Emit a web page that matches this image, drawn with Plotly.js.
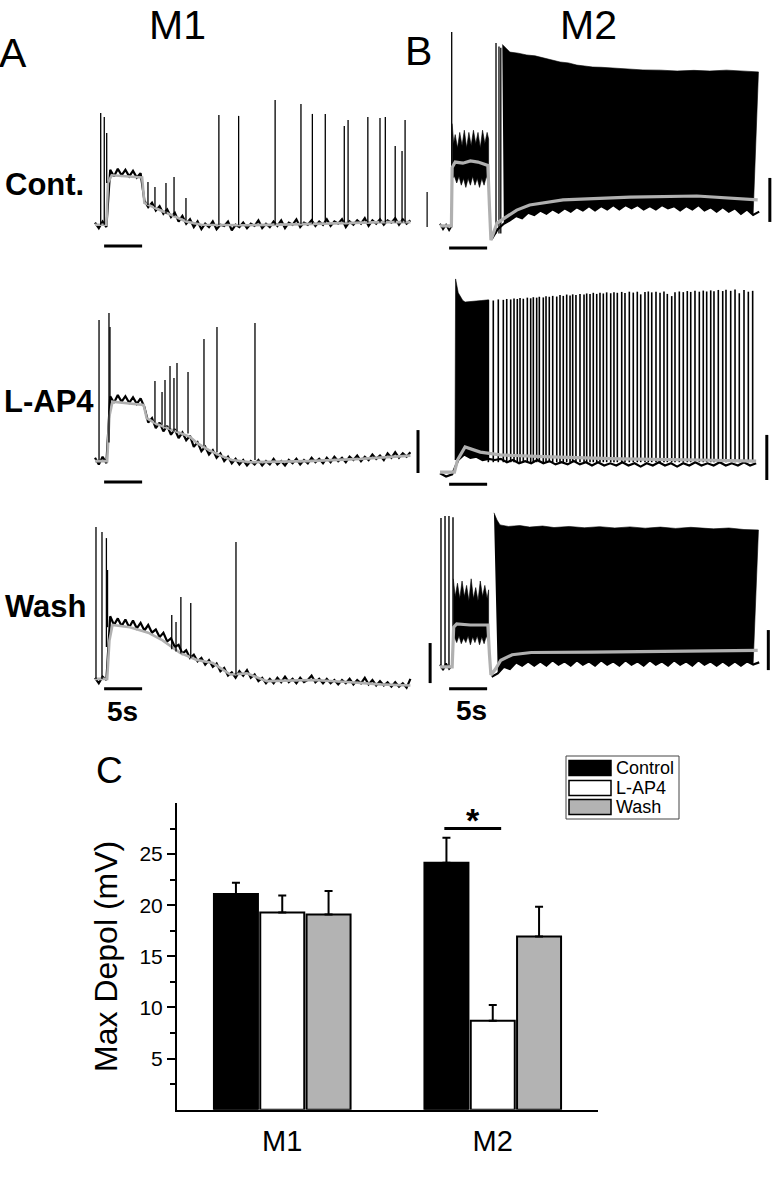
<!DOCTYPE html>
<html>
<head>
<meta charset="utf-8">
<script src="https://cdn.plot.ly/plotly-3.0.1.min.js"></script>
<style>
  html, body { margin: 0; padding: 0; background: #fff; }
  #fig { width: 772px; height: 1200px; }
</style>
</head>
<body>
<div id="fig"></div>
<script>
// ---------------------------------------------------------------
// Values.
// Traces: time in s, membrane potential in mV relative to rest.
// ---------------------------------------------------------------

// black traces of the M1 cells are sampled every 0.5 s from t = 0
const DT_M1 = 0.5;

// A, control
const m1ContBlack = [2, -0.5, 2.5, 0, 26, 23, 26.5, 23.5, 26, 23, 25.5, 22.5, 24.5, 12, 9, 11, 7.5, 9.5, 6, 8, 4.5, 6.5, 2.5, 5, 1.5, 3.5, 0, 2.5,
  -1, 1.5, 0, 2.5, -1, 1, 0.5, 2.5, -1.5, 1, 0, 2, -0.5, 1.5, 0.5, 3, -0.5, 1.5, 0, 2.5, 0.5, 3, -0.5, 2, 1, 3.5, 0, 2,
  1, 3, 0.5, 2.5, 1, 3.5, 0.5, 2.5, 1.5, 3.5, 0, 2.5, 1, 3, 1.5, 4, 0.5, 3, 1.5, 3.5, 1, 3, 2, 4, 1, 3.5, 1.5, 3];
const m1ContGrayT = [0, 1.5, 1.7, 2.2, 6.2, 6.5, 8, 10, 12, 14, 20, 26, 32, 38, 41.5];
const m1ContGrayV = [1, 1, 20, 23.5, 22.5, 11, 8.5, 5.5, 2.5, 1, 0.8, 1.2, 1.8, 2.2, 2.2];
const m1ContSpikeT = [0.75, 1.22, 1.54, 6.97, 7.89, 9.34, 10.4, 11.97, 16.3, 18.9, 23.7, 27.1, 28.6, 30.3, 32.8, 33.3, 35.9, 37.5, 38.2, 39.5, 40.4, 40.8];
const m1ContSpikeBase = [1, 1, 20, 10, 9, 6, 5, 3, 1, 1, 1, 1.5, 1.5, 2, 2, 2, 2, 2, 2, 2, 2, 2];
const m1ContSpikePeak = [51.8, 50, 42.7, 20.5, 18.2, 20, 22.7, 13.2, 50.9, 50.5, 57.7, 55.9, 51.4, 51.4, 45.9, 48.6, 50, 49.5, 50, 36.8, 34.5, 48.6];

// A, L-AP4
const m1LapBlack = [1, -2, 1.5, -1.5, 29, 26, 29.5, 26.5, 29, 26, 28.5, 25.5, 28, 24, 17, 19, 14.5, 17, 13, 15.5, 11.5, 14, 10, 12.5, 9, 11, 6, 8,
  4, 6, 2.5, 4.5, 1, 3, -0.5, 1.5, -1.5, 0.5, -2, 0, -2.5, -0.5, -2, 0, -2.5, -0.5, -2, 0.5, -2, -0.5, -2.5, 0, -1.5, 0.5, -2, 0,
  -1.5, 1, -1, 0.5, -1.5, 1, -1, 1.5, -0.5, 1, -1, 1.5, 0, 2, -0.5, 1.5, 0, 2.5, 0.5, 2, 0, 3, 1, 3.5, 1, 3, 1.5, 3.5];
const m1LapGrayT = [0, 1.6, 1.9, 2.3, 6.4, 6.8, 8, 9.5, 11, 12.5, 13.5, 15, 16.5, 18, 20.5, 28, 35, 41.5];
const m1LapGrayV = [-0.5, -0.5, 20, 26.5, 25, 19, 16.5, 14.5, 12.5, 10.5, 7.5, 4.5, 2, 0, -1, -0.5, 0.5, 2];
const m1LapSpikeT = [0.53, 1.84, 1.97, 7.89, 8.82, 9.21, 9.87, 10.39, 10.79, 12.24, 14.34, 16.05, 21.05];
const m1LapSpikeBase = [0, 8, 26, 17, 16, 15, 14, 13, 13, 12, 6.5, 3.5, 0];
const m1LapSpikePeak = [63.6, 66.8, 60.5, 35.9, 30.9, 36.4, 42.7, 37.3, 44.1, 40, 55, 60.5, 62.3];

// A, wash
const m1WashBlack = [1, -1.5, 1.5, 0, 29, 25, 28, 24.5, 27.5, 24, 27, 23.5, 26, 22.5, 25, 21.5, 23, 19.5, 21.5, 17.5, 19, 15, 16, 12, 13.5, 10, 11.5, 8.5,
  10, 7, 9, 6, 7.5, 4, 5.5, 2, 3.5, 1, 4, 2, 4.5, 1, 2.5, -0.5, 1, -1.5, 0.5, -1.5, 1, -1, 1.5, -1, 0.5, -1.5, 1, -1,
  0, 2, -1, 0.5, -1.5, 0.5, -1.5, 0, -2, 0, -1.5, 0.5, -2, 0, -1.5, 1, -2, 0, -2.5, -0.5, -2.5, -1, -3, -1, -3, -1.5, -3.5, 0.5];
const m1WashGrayT = [0, 1.6, 1.9, 2.3, 4.6, 7, 8.9, 11.2, 13.4, 15.5, 17.8, 20, 22.6, 28.7, 33.2, 37.5, 41.5];
const m1WashGrayV = [0.5, 0.5, 18, 25, 24, 21.5, 18, 12.3, 9.1, 7.7, 2.5, 3, -0.5, 0, -0.9, -2, -2.5];
const m1WashSpikeT = [0.13, 0.92, 1.5, 1.65, 10.1, 10.66, 11.3, 12.6, 18.55];
const m1WashSpikeBase = [0.5, 0.5, 15, 24, 14, 13, 12, 10, 2.5];
const m1WashSpikePeak = [69.5, 67.3, 64.5, 50, 29.5, 26.4, 37.7, 35, 62.7];

// lower black edges of the M2 traces are sampled every 0.8 s
const DT_M2 = 0.8;

// B, control
const m2ContPreT = [0, 0.4, 0.8, 1.2, 1.55];
const m2ContPreV = [1.5, -1, 1, -1.5, 0.5];
const m2ContPlatUpT = [1.6, 1.8, 2.0, 2.3, 2.6, 2.9, 3.2, 3.5, 3.8, 4.1, 4.4, 4.7, 5.0, 5.3, 5.6, 5.9, 6.2, 6.4];
const m2ContPlatUpV = [47, 38, 42, 36, 43, 37, 44, 36, 43, 37, 44, 38, 43, 36, 44, 38, 43, 40];
const m2ContPlatLoT = [1.6, 1.9, 2.2, 2.5, 2.8, 3.1, 3.4, 3.7, 4.0, 4.3, 4.6, 4.9, 5.2, 5.5, 5.8, 6.1, 6.4];
const m2ContPlatLoV = [22, 23, 20, 23, 19, 22, 18, 22, 19, 23, 19, 22, 18, 22, 19, 23, 20];
const m2ContTopT = [8.2, 8.6, 9.2, 10.3, 11.4, 12.5, 13.6, 14.7, 15.8, 16.9, 18, 19, 20.1, 21.2, 22.4, 24.5, 26.7, 29, 31.2, 33.4, 35.5, 37.7, 39.9, 41.9];
const m2ContTopV = [83, 81.4, 79.5, 79, 78.2, 77.8, 76.8, 76, 75, 74.6, 73.6, 73.2, 72.7, 72.6, 72.3, 71.7, 71.4, 71.3, 70.9, 71.2, 70.9, 71.3, 71, 70.5];
const m2ContLowT0 = 6.8;
const m2ContLowV = [-5.5, -1, 1.5, 3, 5, 4, 6.5, 5.5, 7.5, 6, 8, 6.5, 8.5, 7, 9, 7.5, 9.5, 7.5, 9.5, 8, 10, 8, 10, 8.5, 10,
  8, 9.5, 8, 10, 8.5, 9.5, 7.5, 9.5, 8, 10, 7.5, 9, 7, 9, 7, 8.5, 6, 8, 5.5, 7];
const m2ContGrayT = [0, 1.5, 1.6, 2, 3, 4, 5, 6.3, 6.5, 6.7, 7.5, 10.1, 11.8, 16.2, 25, 33.8, 41.8];
const m2ContGrayV = [0.5, 0.5, 27, 29.5, 29, 30, 29.5, 28, 10, -6, 1.8, 7.7, 10, 12.3, 13.6, 14.1, 12.3];
const m2ContSpikeT = [1.54, 7.37, 7.76, 8.0];
const m2ContSpikeBase = [0, -3, -3, -3];
const m2ContSpikePeak = [88.6, 83.6, 82, 81.5];

// B, L-AP4
const m2LapTopT = [1.97, 2.05, 2.4, 3.0, 3.3, 4.5, 5.5, 6.4];
const m2LapTopV = [0, 82.3, 76, 72.5, 71.8, 72, 72.5, 72.8];
const m2LapLowT0 = 0;
const m2LapLowV = [-6, -7.5, -6.5, 0, 2.5, 1, 1.5, 0, 0.5, 0, 0.5, -1, 0, -1.5, -0.5, -1.5, 0, -1.5, -0.5, -2, -1, -2, -0.5, -2, -1,
  -2.5, -1, -2.5, -1.5, -2.5, -1, -2.5, -1.5, -3, -1.5, -2.5, -1, -2.5, -1.5, -3, -1.5, -2.5, -1, -2.5, -1.5, -2.5, -1, -2.5, -1.5, -2.5, -1, -2.5, -1.5];
const m2LapGrayT = [0, 1.9, 2.3, 3.3, 5.3, 7.9, 14.5, 23.7, 34.2, 41.6];
const m2LapGrayV = [-5.5, -5.5, 0, 5.9, 3.6, 2.3, 1.4, 0.5, 0, -0.5];
const m2LapSpikeBase = -1;
const m2LapSpikeT = [6.36, 7.01, 7.67, 8.33, 8.78, 9.30, 9.74, 10.17, 10.53, 10.96, 11.49, 11.93, 12.28, 12.72, 13.07, 13.59, 13.95, 14.38,
  14.83, 15.36, 15.79, 16.22, 16.67, 17.11, 17.46, 17.89, 18.42, 18.95, 19.30, 19.74, 20.17, 20.62, 21.05, 21.49, 21.93, 22.46,
  22.89, 23.33, 23.91, 24.34, 24.91, 25.43, 25.96, 26.41, 26.97, 27.41, 27.86, 28.42, 28.95, 29.47, 29.91, 30.49, 30.92, 31.49,
  32.01, 32.54, 32.99, 33.55, 34.12, 34.64, 35.09, 35.62, 36.05, 36.62, 37.20, 37.63, 38.25, 38.82, 39.38, 40.00, 40.57, 41.14];
const m2LapSpikePeak = [72.7, 72.5, 73, 72.8, 73.2, 73, 73.4, 73.2, 73.6, 73.3, 73.8, 73.5, 74, 73.8, 74.2, 73.9, 74.4, 74.2,
  74.6, 74.3, 75, 74.6, 75.2, 74.8, 75.3, 75, 75.5, 75.2, 75.7, 75.4, 76, 75.5, 76, 75.7, 76.2, 75.8,
  76.3, 76, 76.4, 75.9, 76.5, 76.1, 76.5, 75.3, 76.4, 76.6, 76.2, 76.5, 76, 76.6, 75.5, 74.5, 76.2, 76.6,
  76.3, 76.8, 76.4, 76.9, 76.5, 77, 76.6, 77.1, 76.7, 77.3, 76.8, 77.4, 76.9, 77.5, 75.8, 77.3, 76.5, 76.9];

// B, wash
const m2WashPreT = [0, 0.4, 0.8, 1.2, 1.6];
const m2WashPreV = [7, 4.5, 7.5, 5, 6.5];
const m2WashPlatUpT = [1.75, 2.0, 2.3, 2.6, 2.9, 3.2, 3.5, 3.8, 4.1, 4.4, 4.7, 5.0, 5.3, 5.6, 5.9, 6.2, 6.4];
const m2WashPlatUpV = [46, 38, 44, 37, 45, 38, 43, 36, 46, 37, 42, 36, 45, 38, 43, 37, 41];
const m2WashPlatLoT = [1.75, 1.9, 2.2, 2.5, 2.8, 3.1, 3.4, 3.7, 4.0, 4.3, 4.6, 4.9, 5.2, 5.5, 5.8, 6.1, 6.4];
const m2WashPlatLoV = [18, 19.5, 17, 20, 16.5, 19, 17, 20, 16, 19.5, 17, 20, 16, 19.5, 16.5, 20, 17];
const m2WashTopT = [7.1, 7.5, 7.9, 9, 10.5, 11.8, 13.5, 15, 17, 19, 21, 23, 25, 27, 29, 31, 33, 34.2, 36, 38, 40, 41.9];
const m2WashTopV = [76, 72.7, 70.5, 69.8, 70.2, 69.5, 70, 69.3, 69.8, 69.2, 69.7, 69.1, 69.6, 69, 69.5, 68.9, 69.4, 69, 68.7, 69.1, 68.4, 68.2];
const m2WashLowT0 = 6.8;
const m2WashLowV = [1.5, 3, 6, 5, 8, 6.5, 8.5, 6.5, 8.5, 6.5, 9, 7, 8.5, 6.5, 9, 7, 8.5, 6.5, 9, 7, 8.5, 6.5, 9, 7, 8.5,
  6.5, 9, 7, 8.5, 6.5, 9, 7, 8.5, 6.5, 9, 7, 8.5, 6.5, 8.5, 6.5, 8.5, 6.5, 8.5, 7, 8];
const m2WashGrayT = [0, 1.6, 1.8, 2.2, 4, 6.3, 6.5, 6.7, 7.3, 8, 9.5, 12, 20, 30, 41.8];
const m2WashGrayV = [6, 6, 24, 25.5, 25, 25, 12, 2.3, 5, 9, 11.5, 12.5, 12.7, 13, 13.5];
const m2WashSpikeT = [0.13, 0.66, 1.18, 1.71];
const m2WashSpikeBase = [6, 6, 6, 20];
const m2WashSpikePeak = [73.6, 74.5, 74.5, 74];

// 5 s stimulus / time bar under each trace
const stimStart = 1.2;
const stimDur = 5;
const stimBarV = [-8.6, -9.5, -10, -11, -4, -4];

// voltage scale bars: panel, time, from, to
const scalePanel = [0, 2, 1, 3, 5, 5];
const scaleT = [43.7, 42.5, 43.4, 43.0, -1.3, 43.2];
const scaleV0 = [0, -5.9, 2.3, -9.1, -1.4, 4.5];
const scaleV1 = [15.9, 13.6, 22.3, 11.4, 16.8, 22.7];

// C, bar chart
const groups = ['M1', 'M2'];
const conditions = ['Control', 'L-AP4', 'Wash'];
const meanControl = [21.1, 24.15];
const meanLap = [19.3, 8.7];
const meanWash = [19.1, 16.95];
const semControl = [1.1, 2.45];
const semLap = [1.65, 1.55];
const semWash = [2.3, 2.9];
const sigLevel = 27.5;

// ---------------------------------------------------------------
const W = 772, H = 1200;
const PX_PER_S = 7.6, PX_PER_MV = 2.2;
const FONT = 'Liberation Sans, Arial, Helvetica, sans-serif';
const GRAY = '#b0b0b0';
const barColors = ['#000000', '#ffffff', '#b3b3b3'];

const px = p => p / W;
const py = p => 1 - p / H;

// placement of the six trace panels, in pixels
const panels = [
  { orig: 95,  left: 90,  right: 436, top: 20,  bottom: 258, ref: 227 },
  { orig: 440, left: 428, right: 772, top: 20,  bottom: 258, ref: 227 },
  { orig: 95,  left: 90,  right: 436, top: 270, bottom: 495, ref: 460 },
  { orig: 440, left: 428, right: 772, top: 270, bottom: 495, ref: 460 },
  { orig: 95,  left: 90,  right: 436, top: 505, bottom: 700, ref: 680 },
  { orig: 440, left: 428, right: 772, top: 505, bottom: 700, ref: 680 }
];
const sfx = i => (i === 0 ? '' : String(i + 1));

const layout = {
  width: W, height: H,
  margin: { l: 0, r: 0, t: 0, b: 0 },
  paper_bgcolor: '#fff', plot_bgcolor: 'rgba(0,0,0,0)',
  showlegend: false,
  font: { family: FONT, color: '#000' },
  barmode: 'group', bargap: 0.34, bargroupgap: 0.05,
  shapes: [], annotations: []
};

panels.forEach((p, i) => {
  const s = sfx(i);
  layout['xaxis' + s] = {
    domain: [px(p.left), px(p.right)],
    range: [(p.left - p.orig) / PX_PER_S, (p.right - p.orig) / PX_PER_S],
    visible: false, anchor: 'y' + s
  };
  layout['yaxis' + s] = {
    domain: [py(p.bottom), py(p.top)],
    range: [(p.ref - p.bottom) / PX_PER_MV, (p.ref - p.top) / PX_PER_MV],
    visible: false, anchor: 'x' + s
  };
});

const traces = [];

function grid(t0, dt, v) {
  return v.map((_, k) => +(t0 + k * dt).toFixed(3));
}
function line(i, t, v, color, width) {
  traces.push({
    type: 'scatter', mode: 'lines', x: t, y: v,
    xaxis: 'x' + sfx(i), yaxis: 'y' + sfx(i),
    line: { color: color, width: width }, hoverinfo: 'skip'
  });
}
function spikes(i, t, base, peak, width) {
  const x = [], y = [];
  t.forEach((tt, k) => {
    x.push(tt, tt, null);
    y.push(Array.isArray(base) ? base[k] : base, peak[k], null);
  });
  line(i, x, y, '#000', width);
}
function band(i, tTop, vTop, tBot, vBot) {
  const lo = tTop[0] - 1e-6, hi = tTop[tTop.length - 1] + 1e-6;
  const bt = [], bv = [];
  tBot.forEach((t, k) => { if (t >= lo && t <= hi) { bt.push(t); bv.push(vBot[k]); } });
  traces.push({
    type: 'scatter', mode: 'lines', fill: 'toself', fillcolor: '#000',
    x: tTop.concat(bt.reverse()), y: vTop.concat(bv.reverse()),
    xaxis: 'x' + sfx(i), yaxis: 'y' + sfx(i),
    line: { color: '#000', width: 0.6 }, hoverinfo: 'skip'
  });
}

function m1Panel(i, black, grayT, grayV, spT, spB, spP) {
  line(i, grid(0, DT_M1, black), black, '#000', 2.2);
  line(i, grayT, grayV, GRAY, 2.6);
  spikes(i, spT, spB, spP, 1.3);
}

m1Panel(0, m1ContBlack, m1ContGrayT, m1ContGrayV, m1ContSpikeT, m1ContSpikeBase, m1ContSpikePeak);
m1Panel(2, m1LapBlack, m1LapGrayT, m1LapGrayV, m1LapSpikeT, m1LapSpikeBase, m1LapSpikePeak);
m1Panel(4, m1WashBlack, m1WashGrayT, m1WashGrayV, m1WashSpikeT, m1WashSpikeBase, m1WashSpikePeak);

// B, control
(function () {
  const lowT = grid(m2ContLowT0, DT_M2, m2ContLowV);
  line(1, m2ContPreT, m2ContPreV, '#000', 1.8);
  band(1, m2ContPlatUpT, m2ContPlatUpV, m2ContPlatLoT, m2ContPlatLoV);
  band(1, m2ContTopT, m2ContTopV, lowT, m2ContLowV);
  spikes(1, m2ContSpikeT, m2ContSpikeBase, m2ContSpikePeak, 1.3);
  line(1, lowT, m2ContLowV, '#000', 2.2);
  line(1, m2ContGrayT, m2ContGrayV, GRAY, 3.2);
})();

// B, L-AP4
(function () {
  const lowT = grid(m2LapLowT0, DT_M2, m2LapLowV);
  band(3, m2LapTopT, m2LapTopV, lowT, m2LapLowV);
  spikes(3, m2LapSpikeT, m2LapSpikeBase, m2LapSpikePeak, 1.6);
  line(3, lowT, m2LapLowV, '#000', 2.2);
  line(3, m2LapGrayT, m2LapGrayV, GRAY, 3.2);
})();

// B, wash
(function () {
  const lowT = grid(m2WashLowT0, DT_M2, m2WashLowV);
  line(5, m2WashPreT, m2WashPreV, '#000', 1.8);
  spikes(5, m2WashSpikeT, m2WashSpikeBase, m2WashSpikePeak, 1.4);
  band(5, m2WashPlatUpT, m2WashPlatUpV, m2WashPlatLoT, m2WashPlatLoV);
  band(5, m2WashTopT, m2WashTopV, lowT, m2WashLowV);
  line(5, lowT, m2WashLowV, '#000', 2.2);
  line(5, m2WashGrayT, m2WashGrayV, GRAY, 3.2);
})();

// time bars and voltage scale bars
stimBarV.forEach((v, i) => {
  layout.shapes.push({
    type: 'line', xref: 'x' + sfx(i), yref: 'y' + sfx(i),
    x0: stimStart, x1: stimStart + stimDur, y0: v, y1: v,
    line: { color: '#000', width: 3 }
  });
});
scalePanel.forEach((pi, k) => {
  layout.shapes.push({
    type: 'line', xref: 'x' + sfx(pi), yref: 'y' + sfx(pi),
    x0: scaleT[k], x1: scaleT[k], y0: scaleV0[k], y1: scaleV1[k],
    line: { color: '#000', width: pi === 0 ? 1.2 : 3 }
  });
});

// ---------------- bar chart (C) ----------------
const means = [meanControl, meanLap, meanWash];
const sems = [semControl, semLap, semWash];
conditions.forEach((c, k) => {
  traces.push({
    type: 'bar', name: c, x: groups, y: means[k],
    xaxis: 'x7', yaxis: 'y7',
    marker: { color: barColors[k], line: { color: '#000', width: 2 } },
    error_y: {
      type: 'data', symmetric: false, array: sems[k],
      arrayminus: sems[k].map(() => 0),
      color: '#000', thickness: 2, width: 4
    },
    hoverinfo: 'skip'
  });
});

layout.xaxis7 = {
  domain: [px(177), px(598)], anchor: 'y7',
  type: 'category', range: [-0.5, 1.5],
  showline: true, linecolor: '#000', linewidth: 2,
  ticks: 'outside', ticklen: 4, tickcolor: 'rgba(0,0,0,0)',
  tickfont: { size: 29 }, showgrid: false, zeroline: false
};
layout.yaxis7 = {
  domain: [py(1109.7), py(803)], anchor: 'x7',
  range: [0, 30],
  showline: true, linecolor: '#000', linewidth: 2,
  ticks: 'outside', ticklen: 8, tickwidth: 2, tickcolor: '#000',
  tickvals: [5, 10, 15, 20, 25], tickfont: { size: 21 },
  minor: { tickvals: [2.5, 7.5, 12.5, 17.5, 22.5, 27.5], ticks: 'outside', ticklen: 5, tickwidth: 2, tickcolor: '#000' },
  title: { text: 'Max Depol (mV)', font: { size: 32 }, standoff: 12 },
  showgrid: false, zeroline: false
};

// significance bar between control and L-AP4 of M2
const slot = (1 - layout.bargap) / conditions.length;
const ctrlX = 1 - slot, lapX = 1;
layout.shapes.push({
  type: 'line', xref: 'x7', yref: 'y7',
  x0: ctrlX - 0.01, x1: lapX + 0.04, y0: sigLevel, y1: sigLevel,
  line: { color: '#000', width: 3 }
});
layout.annotations.push({
  text: '<b>*</b>', xref: 'x7', yref: 'paper', x: (ctrlX + lapX) / 2 + 0.015, y: py(820),
  showarrow: false, font: { size: 34 }, xanchor: 'center', yanchor: 'middle'
});

// legend drawn by hand (wide swatches as in the original)
layout.shapes.push({
  type: 'rect', xref: 'paper', yref: 'paper',
  x0: px(566), x1: px(679), y0: py(819), y1: py(756),
  line: { color: '#444', width: 1 }, fillcolor: 'rgba(0,0,0,0)'
});
const legRows = [768, 788, 807];
conditions.forEach((c, k) => {
  layout.shapes.push({
    type: 'rect', xref: 'paper', yref: 'paper',
    x0: px(569), x1: px(611), y0: py(legRows[k] + 7.5), y1: py(legRows[k] - 7.5),
    line: { color: '#000', width: 1.5 }, fillcolor: barColors[k]
  });
  layout.annotations.push({
    text: c, xref: 'paper', yref: 'paper', x: px(614), y: py(legRows[k]),
    showarrow: false, font: { size: 18 }, xanchor: 'left', yanchor: 'middle'
  });
});

// ---------------- labels ----------------
function label(text, x, y, size, anchor, vanchor) {
  layout.annotations.push({
    text: text, xref: 'paper', yref: 'paper', x: px(x), y: py(y),
    showarrow: false, font: { size: size }, xanchor: anchor || 'center', yanchor: vanchor || 'middle'
  });
}
label('M1', 177, 0, 41, 'center', 'top');
label('M2', 588, 0, 41, 'center', 'top');
label('A', 13, 53, 41);
label('B', 418, 51, 41);
label('C', 109, 770, 37);
label('<b>Cont.</b>', 3, 184, 31, 'left');
label('<b>L-AP4</b>', 2, 402, 31, 'left');
label('<b>Wash</b>', 3, 606, 31, 'left');
label('<b>5s</b>', 122, 711, 28);
label('<b>5s</b>', 472, 710, 28);

Plotly.newPlot('fig', traces, layout, { staticPlot: true, displayModeBar: false });
</script>
</body>
</html>
